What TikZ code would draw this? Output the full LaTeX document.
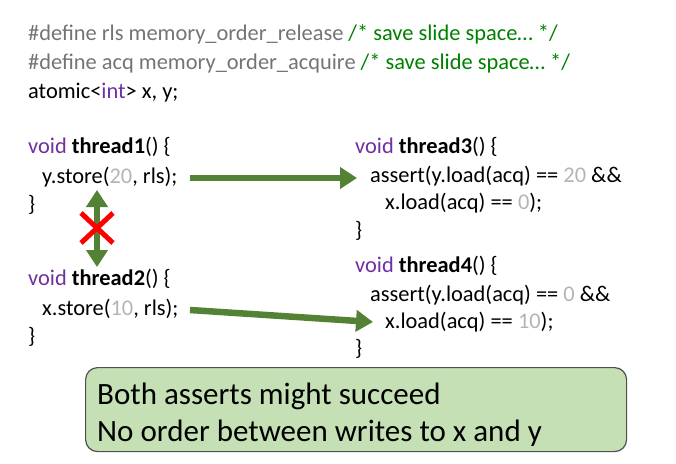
\documentclass[tikz,border=0pt]{standalone}
\usepackage{fontspec}
\setmainfont{Carlito}
\usetikzlibrary{arrows.meta}
\definecolor{defgray}{HTML}{747474}
\definecolor{cmtgreen}{HTML}{008000}
\definecolor{kwpurple}{HTML}{7030A0}
\definecolor{numgray}{HTML}{B4B4B4}
\definecolor{arrgreen}{HTML}{548235}
\definecolor{boxfill}{HTML}{C5E0B4}
\definecolor{boxline}{HTML}{505050}
\newcommand{\codefont}{\fontsize{22.4}{26}\selectfont}
\newcommand{\kw}[1]{\textcolor{kwpurple}{#1}}
\newcommand{\nm}[1]{\textcolor{numgray}{#1}}
\begin{document}
\begin{tikzpicture}[x=1pt,y=-1pt,
  code/.style={anchor=base west, inner sep=0pt, font=\codefont},
  flowarrow/.style={draw=arrgreen, line width=6.5pt, -{Triangle[length=17pt,width=21pt]}},
  orderarrow/.style={draw=arrgreen, line width=6.5pt, {Triangle[length=17pt,width=21pt]}-{Triangle[length=17pt,width=21pt]}},
  crossline/.style={draw=red, line width=5pt},
  notebox/.style={draw=boxline, line width=1.2pt, fill=boxfill, rounded corners=12pt}]
\useasboundingbox (0,0) rectangle (676,463);
% header
\node[code, text=defgray] (d1) at (28,40) {\#define rls memory\_order\_release \textcolor{cmtgreen}{/* save slide space… */}};
\node[code, text=defgray] (d2) at (28,69) {\#define acq memory\_order\_acquire \textcolor{cmtgreen}{/* save slide space… */}};
\node[code] (d3) at (28,98) {atomic<\kw{int}> x, y;};
% thread1
\node[code] (t1) at (28,153) {\kw{void} \textbf{thread1}() \{};
\node[code] (s1) at (42,183) {y.store(\nm{20}, rls);};
\node[code] (c1) at (28,211) {\}};
% thread2
\node[code] (t2) at (28,285) {\kw{void} \textbf{thread2}() \{};
\node[code] (s2) at (42,315) {x.store(\nm{10}, rls);};
\node[code] (c2) at (28,343) {\}};
% thread3
\node[code] (t3) at (355,153) {\kw{void} \textbf{thread3}() \{};
\node[code] (a3) at (370,182) {assert(y.load(acq) == \nm{20} \&\&};
\node[code] (b3) at (385,209) {x.load(acq) == \nm{0});};
\node[code] (c3) at (355,237) {\}};
% thread4
\node[code] (t4) at (355,272) {\kw{void} \textbf{thread4}() \{};
\node[code] (a4) at (370,301) {assert(y.load(acq) == \nm{0} \&\&};
\node[code] (b4) at (385,328) {x.load(acq) == \nm{10});};
\node[code] (c4) at (355,355) {\}};
% arrows
\coordinate (s1out) at (190,178);
\coordinate (a3in) at (357,178);
\coordinate (s2out) at (190,310);
\coordinate (b4in) at (373,322);
\coordinate (ordtop) at (97,190);
\coordinate (ordbot) at (97,267);
\draw[flowarrow] (s1out) -- (a3in);
\draw[flowarrow] (s2out) -- (b4in);
\draw[orderarrow] (ordtop) -- (ordbot);
\coordinate (xc) at (97,228);
\draw[crossline] ([shift={(-16,-15)}]xc) -- ([shift={(16,15)}]xc);
\draw[crossline] ([shift={(-16,15)}]xc) -- ([shift={(16,-15)}]xc);
% note box
\node[notebox, anchor=north west, minimum width=541pt, minimum height=84pt, inner sep=0pt] (box) at (85,367) {};
\node[anchor=base west, inner sep=0pt, font=\fontsize{31}{36}\selectfont] (n1) at (97,404) {Both asserts might succeed};
\node[anchor=base west, inner sep=0pt, font=\fontsize{31}{36}\selectfont] (n2) at (97,441) {No order between writes to x and y};
\end{tikzpicture}
\end{document}
